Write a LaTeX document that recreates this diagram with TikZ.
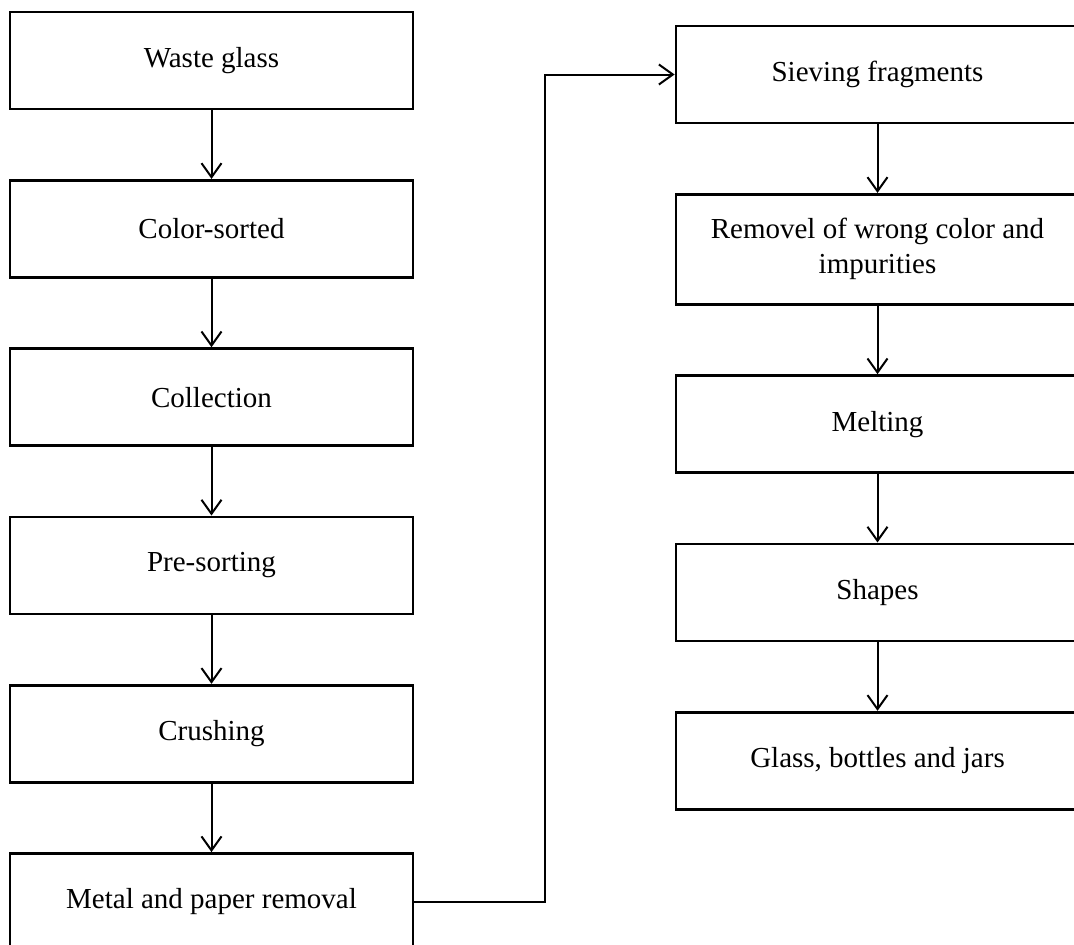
\documentclass[tikz,border=0pt]{standalone}
\usepackage{fontspec}
\setmainfont{Liberation Serif}
\usetikzlibrary{arrows.meta, positioning}

\begin{document}
\begin{tikzpicture}[x=1pt, y=1pt,
  stepbox/.style={draw, line width=2.8pt, minimum width=403pt, minimum height=97pt,
    align=center, font=\fontsize{29}{35}\selectfont},
  flow/.style={-{Straight Barb[length=14pt,width=20pt]}, line width=2pt},
  node distance=68.5pt]
  \clip (0,0) rectangle (1074,-945);
  % left column
  \node[stepbox] (waste) at (211.5,-60.5) {Waste glass};
  \node[stepbox, below=of waste] (colorsort) {Color-sorted};
  \node[stepbox, below=of colorsort] (collect) {Collection};
  \node[stepbox, below=of collect] (presort) {Pre-sorting};
  \node[stepbox, below=of presort] (crush) {Crushing};
  \node[stepbox, below=of crush] (metal) {Metal and paper removal};
  % right column
  \node[stepbox] (sieve) at (877.5,-74.5) {Sieving fragments};
  \node[stepbox, minimum height=110pt, below=of sieve] (removel) {Removel of wrong color and\\impurities};
  \node[stepbox, below=of removel] (melt) {Melting};
  \node[stepbox, below=of melt] (shape) {Shapes};
  \node[stepbox, below=of shape] (jars) {Glass, bottles and jars};

  \draw[flow] (waste) -- (colorsort);
  \draw[flow] (colorsort) -- (collect);
  \draw[flow] (collect) -- (presort);
  \draw[flow] (presort) -- (crush);
  \draw[flow] (crush) -- (metal);
  \draw[flow] (metal.east) -- ++(131,0) |- (sieve.west);
  \draw[flow] (sieve) -- (removel);
  \draw[flow] (removel) -- (melt);
  \draw[flow] (melt) -- (shape);
  \draw[flow] (shape) -- (jars);
\end{tikzpicture}
\end{document}
